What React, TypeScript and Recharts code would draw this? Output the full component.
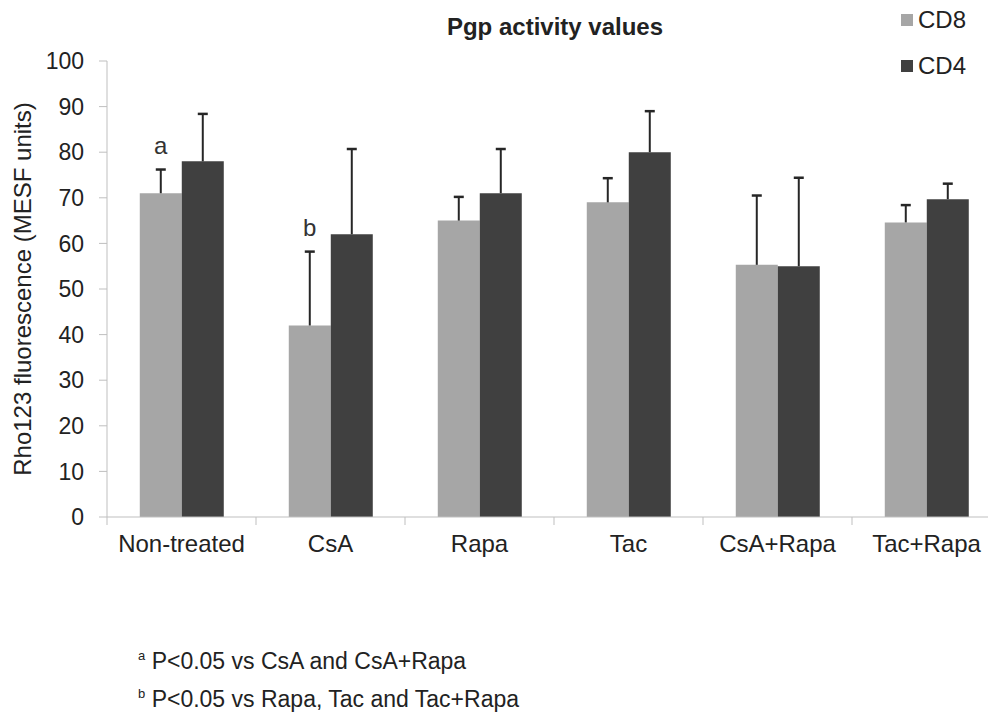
import { Bar, BarChart, LabelList, Rectangle, XAxis, YAxis } from "recharts";

const categories = ["Non-treated", "CsA", "Rapa", "Tac", "CsA+Rapa", "Tac+Rapa"];
const cd8Values = [71, 42, 65, 69, 55.3, 64.6];
const cd8Errors = [5.2, 16.2, 5.2, 5.3, 15.2, 3.8];
const cd4Values = [78, 62, 71, 80, 55, 69.7];
const cd4Errors = [10.4, 18.7, 9.7, 9, 19.4, 3.4];
const cd8Notes = ["a", "b", "", "", "", ""];
const yTicks = [0, 10, 20, 30, 40, 50, 60, 70, 80, 90, 100];
const footnotes = [
  { mark: "a", text: "P<0.05 vs CsA and CsA+Rapa" },
  { mark: "b", text: "P<0.05 vs Rapa, Tac and Tac+Rapa" },
];

const data = categories.map((name, i) => ({
  name,
  cd8: cd8Values[i],
  cd4: cd4Values[i],
}));

const FONT = "'Liberation Sans', Arial, sans-serif";
const CD8_COLOR = "#a6a6a6";
const CD4_COLOR = "#404040";
const AXIS_COLOR = "#bfbfbf";
const WHISKER = "#262626";
const X_TICK_MARGIN = 18;

// bar plus an upward-only error whisker (Excel "plus" error bars)
function withWhisker(values: number[], errors: number[]) {
  return (props: any) => {
    const { x, y, width, height, index } = props;
    const pxPerUnit = height / values[index];
    const top = y - errors[index] * pxPerUnit;
    const cx = x + width / 2;
    return (
      <g>
        <Rectangle {...props} />
        <line x1={cx} x2={cx} y1={y} y2={top} stroke={WHISKER} strokeWidth={2} />
        <line x1={cx - 5} x2={cx + 5} y1={top} y2={top} stroke={WHISKER} strokeWidth={2.5} />
      </g>
    );
  };
}

// category label, with tick marks on the band edges like Excel
function CategoryTick(props: any) {
  const { x, y, payload, index, visibleTicksCount } = props;
  const half = payload.offset ?? 0;
  const axisY = y - X_TICK_MARGIN;
  const last = index === visibleTicksCount - 1;
  return (
    <g>
      <line x1={x - half} x2={x - half} y1={axisY} y2={axisY + 8} stroke={AXIS_COLOR} />
      {last ? (
        <line x1={x + half} x2={x + half} y1={axisY} y2={axisY + 8} stroke={AXIS_COLOR} />
      ) : null}
      <text x={x} y={y} dy="0.71em" textAnchor="middle" fontSize={24} fill="#222" fontFamily={FONT}>
        {payload.value}
      </text>
    </g>
  );
}

// letter over the CD8 bar, sitting just above its error bar
function NoteLabel(props: any) {
  const { x, y, width, height, value, index } = props;
  const note = cd8Notes[index];
  if (!note) return null;
  const pxPerUnit = height / value;
  const errTop = y - cd8Errors[index] * pxPerUnit;
  return (
    <text
      x={x + width / 2}
      y={errTop - 16}
      textAnchor="middle"
      fontSize={24}
      fill="#333"
      fontFamily={FONT}
    >
      {note}
    </text>
  );
}

export default function App() {
  return (
    <div
      style={{
        position: "absolute",
        left: 0,
        top: 0,
        width: 988,
        height: 714,
        overflow: "hidden",
        background: "#fff",
        fontFamily: FONT,
        color: "#222",
      }}
    >
      <div
        style={{
          position: "absolute",
          left: 405,
          width: 300,
          top: 13,
          textAlign: "center",
          fontSize: 24,
          fontWeight: "bold",
        }}
      >
        Pgp activity values
      </div>

      <div style={{ position: "absolute", left: 901, top: 6, fontSize: 24, lineHeight: "28px" }}>
        <div style={{ display: "flex", alignItems: "center" }}>
          <span style={{ width: 12, height: 12, background: CD8_COLOR, marginRight: 5 }} />
          CD8
        </div>
        <div style={{ display: "flex", alignItems: "center", marginTop: 18 }}>
          <span style={{ width: 12, height: 12, background: CD4_COLOR, marginRight: 5 }} />
          CD4
        </div>
      </div>

      <BarChart
        width={1010}
        height={714}
        data={data}
        margin={{ top: 61, right: 9, left: 0, bottom: 0 }}
        barCategoryGap="22%"
        barGap={0}
      >
        <XAxis
          dataKey="name"
          height={197}
          stroke={AXIS_COLOR}
          tickLine={false}
          tickSize={0}
          tickMargin={X_TICK_MARGIN}
          interval={0}
          tick={<CategoryTick />}
        />
        <YAxis
          width={107}
          domain={[0, 100]}
          ticks={yTicks}
          tickSize={8}
          tickMargin={15}
          stroke={AXIS_COLOR}
          tick={{ fontSize: 23, fill: "#222", fontFamily: FONT }}
          label={{
            value: "Rho123 fluorescence (MESF units)",
            angle: -90,
            position: "insideLeft",
            offset: 22,
            style: { textAnchor: "middle", fontSize: 24, fill: "#222", fontFamily: FONT },
          }}
        />
        <Bar
          dataKey="cd8"
          fill={CD8_COLOR}
          isAnimationActive={false}
          shape={withWhisker(cd8Values, cd8Errors)}
        >
          <LabelList dataKey="cd8" content={NoteLabel} />
        </Bar>
        <Bar
          dataKey="cd4"
          fill={CD4_COLOR}
          isAnimationActive={false}
          shape={withWhisker(cd4Values, cd4Errors)}
        />
      </BarChart>

      {footnotes.map((f, i) => (
        <div
          key={f.mark}
          style={{ position: "absolute", left: 138, top: 648 + i * 38, fontSize: 23, whiteSpace: "nowrap" }}
        >
          <sup style={{ fontSize: 13 }}>{f.mark}</sup> {f.text}
        </div>
      ))}
    </div>
  );
}
